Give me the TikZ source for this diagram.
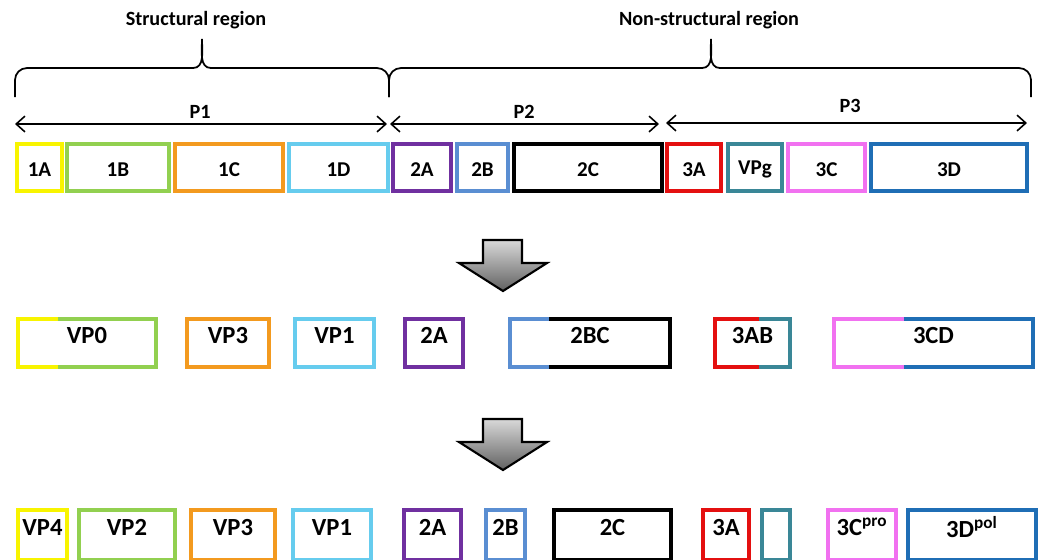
\documentclass[tikz,border=0pt]{standalone}
\usepackage{fontspec}
\setmainfont{Carlito}
\usetikzlibrary{arrows.meta, fit}

\definecolor{cyel}{HTML}{F8F400}
\definecolor{cgrn}{HTML}{92D050}
\definecolor{corg}{HTML}{F39A1F}
\definecolor{cltb}{HTML}{66CCEE}
\definecolor{cpur}{HTML}{7030A0}
\definecolor{cblu}{HTML}{5A8ED2}
\definecolor{cred}{HTML}{E41010}
\definecolor{ctea}{HTML}{3A8797}
\definecolor{cpnk}{HTML}{F171F0}
\definecolor{cdkb}{HTML}{1F6EB5}

\begin{document}
\begin{tikzpicture}
[x=0.02cm, y=0.02cm, line join=miter,
every node/.style={inner sep=0pt, font=\bfseries\fontsize{11.5}{13}\selectfont},
gene/.style={draw, rectangle, outer sep=0pt, line width=2.2pt,
  label={[font=\bfseries\fontsize{12}{14}\selectfont, yshift=-1pt]center:#1}},
prot/.style={draw, rectangle, outer sep=0pt, line width=2.2pt,
  label={[font=\bfseries\fontsize{14}{16}\selectfont, yshift=4.5pt]center:#1}},
half/.style={line width=2.2pt},
span/.style={{Straight Barb[length=5pt,width=9pt]}-{Straight Barb[length=5pt,width=9pt]}, line width=0.9pt},
curly/.style={line width=1pt},
cut/.style={draw=black, line width=1.2pt, top color=black!15, bottom color=black!62}
]

\useasboundingbox (0,0) rectangle (1039,-559);
\clip (0,0) rectangle (1039,-559);

% regions
\node (Rs) at (196,-20) {Structural region};
\node (Rn) at (709,-20) {Non-structural region};

\draw[curly] (15,-97) -- (15,-80) to[out=90,in=180] (27,-68) -- (193,-68)
  to[out=0,in=-90] (202,-39) to[out=-90,in=180] (211,-68) -- (377,-68)
  to[out=0,in=90] (389,-80) -- (389,-97);
\draw[curly] (389,-97) -- (389,-80) to[out=90,in=180] (401,-68) -- (702,-68)
  to[out=0,in=-90] (711,-39) to[out=-90,in=180] (720,-68) -- (1019,-68)
  to[out=0,in=90] (1031,-80) -- (1031,-97);

% precursors
\path
coordinate (p1l) at (15,-124)
coordinate (p1r) at (387,-124)
coordinate (p2l) at (390,-124)
coordinate (p2r) at (659,-124)
coordinate (p3l) at (666,-123)
coordinate (p3r) at (1027,-123)
;
\draw[span] (p1l) -- (p1r);
\draw[span] (p2l) -- (p2r);
\draw[span] (p3l) -- (p3r);
\node (P1) at (200,-112) {P1};
\node (P2) at (524,-112) {P2};
\node (P3) at (850,-106) {P3};

% polyprotein
\node[gene=1A, draw=cyel, fit={(17,-144) (62,-191)}] (g1A) {};
\node[gene=1B, draw=cgrn, fit={(67,-144) (169,-191)}] (g1B) {};
\node[gene=1C, draw=corg, fit={(175,-144) (283,-191)}] (g1C) {};
\node[gene=1D, draw=cltb, fit={(289,-144) (388,-191)}] (g1D) {};
\node[gene=2A, draw=cpur, fit={(393,-144) (451,-191)}] (g2A) {};
\node[gene=2B, draw=cblu, fit={(457,-144) (508,-191)}] (g2B) {};
\node[gene=2C, draw=black, fit={(514,-144) (662,-191)}] (g2C) {};
\node[gene=3A, draw=cred, fit={(667,-144) (721,-191)}] (g3A) {};
\node[gene=VPg, draw=ctea, fit={(728,-144) (782,-191)}] (g3B) {};
\node[gene=3C, draw=cpnk, fit={(788,-144) (865,-191)}] (g3C) {};
\node[gene=3D, draw=cdkb, fit={(871,-144) (1027,-191)}] (g3D) {};

% cleavage steps
\foreach \dy in {0,179}
{\draw[cut, shift={(0,-\dy)}] (483,-240) -- (522,-240) -- (522,-263) -- (547,-263)
  -- (503,-291) -- (459,-263) -- (483,-263) -- cycle;}

% intermediates
\node[prot=VP0, draw=none, fit={(18,-319) (156,-367)}] (VP0) {};
\draw[half, cyel] (58,-319) -- (VP0.north west) -- (VP0.south west) -- (58,-367);
\draw[half, cgrn] (58,-319) -- (VP0.north east) -- (VP0.south east) -- (58,-367);
\node[prot=VP3, draw=corg, fit={(187,-319) (269,-367)}] (mVP3) {};
\node[prot=VP1, draw=cltb, fit={(295,-319) (374,-367)}] (mVP1) {};
\node[prot=2A, draw=cpur, fit={(405,-319) (463,-367)}] (m2A) {};
\node[prot=2BC, draw=none, fit={(510,-319) (670,-367)}] (m2BC) {};
\draw[half, cblu] (549,-319) -- (m2BC.north west) -- (m2BC.south west) -- (549,-367);
\draw[half, black] (549,-319) -- (m2BC.north east) -- (m2BC.south east) -- (549,-367);
\node[prot=3AB, draw=none, fit={(715,-319) (790,-367)}] (m3AB) {};
\draw[half, cred] (759,-319) -- (m3AB.north west) -- (m3AB.south west) -- (759,-367);
\draw[half, ctea] (759,-319) -- (m3AB.north east) -- (m3AB.south east) -- (759,-367);
\node[prot=3CD, draw=none, fit={(834,-319) (1033,-367)}] (m3CD) {};
\draw[half, cpnk] (904,-319) -- (m3CD.north west) -- (m3CD.south west) -- (904,-367);
\draw[half, cdkb] (904,-319) -- (m3CD.north east) -- (m3CD.south east) -- (904,-367);

% mature proteins
\node[prot=VP4, draw=cyel, fit={(18,-510) (67,-560)}] (VP4) {};
\node[prot=VP2, draw=cgrn, fit={(79,-510) (175,-560)}] (VP2) {};
\node[prot=VP3, draw=corg, fit={(191,-510) (275,-560)}] (VP3) {};
\node[prot=VP1, draw=cltb, fit={(293,-510) (371,-560)}] (VP1) {};
\node[prot=2A, draw=cpur, fit={(404,-510) (461,-560)}] (f2A) {};
\node[prot=2B, draw=cblu, fit={(486,-510) (525,-560)}] (f2B) {};
\node[prot=2C, draw=black, fit={(554,-510) (671,-560)}] (f2C) {};
\node[prot=3A, draw=cred, fit={(703,-510) (749,-560)}] (f3A) {};
\node[prot={}, draw=ctea, fit={(762,-510) (790,-560)}] (f3B) {};
\node[prot={3C\textsuperscript{pro}}, draw=cpnk, fit={(828,-510) (896,-560)}] (f3C) {};
\node[prot={3D\textsuperscript{pol}}, draw=cdkb, fit={(908,-510) (1036,-560)}] (f3D) {};

\end{tikzpicture}
\end{document}
